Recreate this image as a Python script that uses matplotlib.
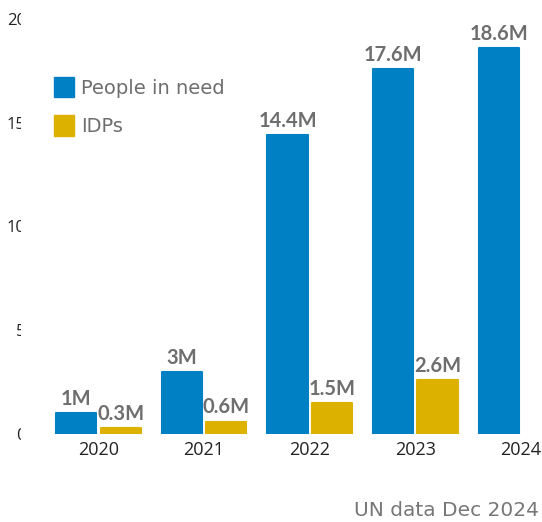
import numpy as np
import matplotlib
matplotlib.use("Agg")
import matplotlib.pyplot as plt
from matplotlib.transforms import Bbox

years = ["2020", "2021", "2022", "2023", "2024"]
people_in_need = [1.0, 3.0, 14.4, 17.6, 18.6]
idps = [0.3, 0.6, 1.5, 2.6, None]
pin_labels = ["1M", "3M", "14.4M", "17.6M", "18.6M"]
idp_labels = ["0.3M", "0.6M", "1.5M", "2.6M", None]
y_ticks = [0, 5, 10, 15, 20]

BLUE = "#0080c4"
YELLOW = "#dcb100"
LABEL_GREY = "#6e6e6e"

W, H = 542, 522
fig = plt.figure(figsize=(W / 100, H / 100), dpi=100)
left_px, bottom_px, top_px = 30, 88, 503
ax = fig.add_axes([left_px / W, bottom_px / H, 1 - left_px / W, (top_px - bottom_px) / H])

x = np.arange(len(years))
off, bw = 0.21, 0.38

for i, v in enumerate(people_in_need):
    ax.bar(x[i] - off, v, bw, color=BLUE, edgecolor=BLUE, linewidth=1.5, joinstyle="round")
    ax.text(x[i] - off, v + 0.2, pin_labels[i], ha="center", va="bottom",
            fontsize=14.5, fontweight="bold", color=LABEL_GREY, family="Lato")
for i, v in enumerate(idps):
    if v is None:
        continue
    ax.bar(x[i] + off, v, bw, color=YELLOW, edgecolor=YELLOW, linewidth=1.5, joinstyle="round")
    ax.text(x[i] + off, v + 0.2, idp_labels[i], ha="center", va="bottom",
            fontsize=14.5, fontweight="bold", color=LABEL_GREY, family="Lato")

ax.set_xlim(-0.649, 4.2)
ax.set_ylim(0, 20)
ax.set_xticks(x)
ax.set_xticklabels(years, fontsize=13, family="Open Sans", color="#222222")
ax.set_yticks(y_ticks)
ax.set_yticklabels([str(t) for t in y_ticks], fontsize=12, family="Open Sans", color="#222222")
ax.tick_params(axis="both", length=0)
ax.tick_params(axis="x", pad=5)
ax.tick_params(axis="y", pad=3)
for s in ax.spines.values():
    s.set_visible(False)

# y tick labels are cut off in the original
clip = Bbox.from_extents(0, 0, 21, H)
for lab in ax.get_yticklabels():
    lab.set_clip_box(clip)
    lab.set_clip_on(True)

handles = [plt.Rectangle((0, 0), 1, 1, color=BLUE), plt.Rectangle((0, 0), 1, 1, color=YELLOW)]
leg = ax.legend(handles, ["People in need", "IDPs"], loc="upper left",
                bbox_to_anchor=(50 / W, 1 - 73 / H), bbox_transform=fig.transFigure,
                frameon=False, prop={"family": "DejaVu Sans", "size": 14},
                handlelength=1.03, handleheight=1.24, handletextpad=0.36,
                labelspacing=0.9, borderaxespad=0, borderpad=0.2)
for t in leg.get_texts():
    t.set_color(LABEL_GREY)

fig.text(539 / W, 1 - 520 / H, "UN data Dec 2024", ha="right", va="bottom",
         fontsize=14.5, family="DejaVu Sans", color="#777777")

fig.savefig("out.png", dpi=100)
